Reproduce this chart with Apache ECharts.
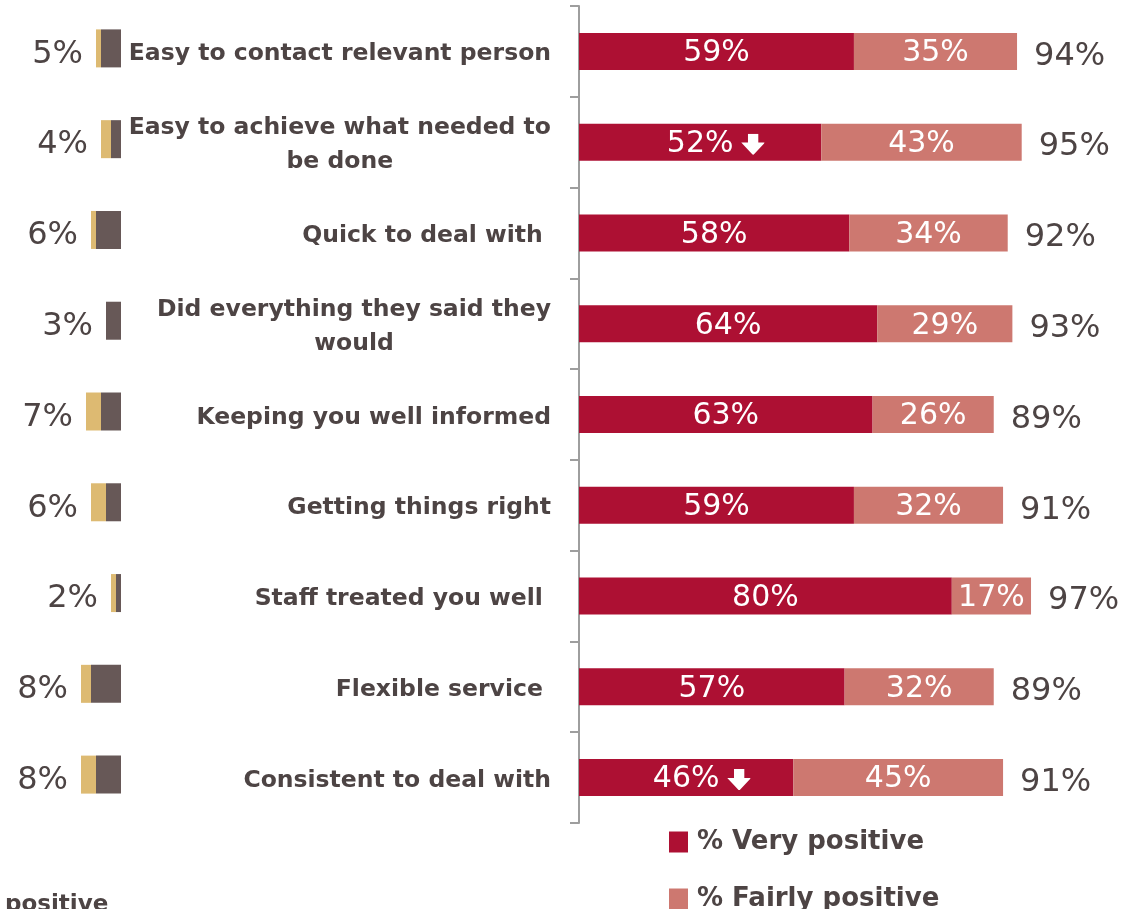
<!DOCTYPE html>
<html>
<head>
<meta charset="utf-8">
<script src="https://cdn.jsdelivr.net/npm/echarts@6/dist/echarts.min.js"></script>
<style>
  html, body { margin: 0; padding: 0; background: #ffffff; }
  #chart { width: 1121px; height: 909px; }
</style>
</head>
<body>
<div id="chart"></div>
<script>
// Service attributes, top to bottom
const categories = [
  'Easy to contact relevant person',
  'Easy to achieve what needed to\nbe done',
  'Quick to deal with ',
  'Did everything they said they\nwould',
  'Keeping you well informed',
  'Getting things right',
  'Staff treated you well ',
  'Flexible service ',
  'Consistent to deal with'
];

// Positive ratings (%)
const veryPositive   = [59, 52, 58, 64, 63, 59, 80, 57, 46];
const fairlyPositive = [35, 43, 34, 29, 26, 32, 17, 32, 45];
const totalPositive  = [94, 95, 92, 93, 89, 91, 97, 89, 91];
// 1 = significant decrease flagged with a down arrow
const significantDrop = [0, 1, 0, 0, 0, 0, 0, 0, 1];

// Negative ratings (%), drawn to the left
const veryNegative   = [4, 2, 5, 3, 4, 3, 1, 6, 5];
const fairlyNegative = [1, 2, 1, 0, 3, 3, 1, 2, 3];
const totalNegative  = [5, 4, 6, 3, 7, 6, 2, 8, 8];

const C_VERY = '#AD1033';
const C_FAIRLY = '#CD7870';
const C_NEG_DARK = '#675857';
const C_NEG_TAN = '#DDBA72';
const TEXT = '#4D4444';
const FONT = '"DejaVu Sans", "Liberation Sans", sans-serif';

const arrowSvg = "<svg xmlns='http://www.w3.org/2000/svg' width='30' height='20' viewBox='0 0 30 20'>" +
  "<path d='M14 0H24V8.5H30.5L19 20.5L7.5 8.5H14Z' fill='white'/></svg>";
const arrowUrl = 'data:image/svg+xml;charset=utf-8,' + encodeURIComponent(arrowSvg);

const chart = echarts.init(document.getElementById('chart'), null, { renderer: 'canvas' });

const option = {
  animation: false,
  backgroundColor: '#ffffff',
  textStyle: { fontFamily: FONT },
  legend: {
    data: ['% Very positive', '% Fairly positive'],
    orient: 'vertical',
    left: 669,
    top: 829,
    height: 200,
    padding: 0,
    itemWidth: 19,
    itemHeight: 21,
    itemGap: 31,
    icon: 'rect',
    textStyle: { fontFamily: FONT, fontSize: 26, lineHeight: 21, fontWeight: 'bold', color: TEXT, padding: [0, 0, 0, 4] }
  },
  grid: [
    { left: 579, top: 6, width: 466, height: 817 },
    { left: 21, top: 3, width: 100, height: 817 }
  ],
  xAxis: [
    { gridIndex: 0, type: 'value', min: 0, max: 100, show: false },
    { gridIndex: 1, type: 'value', min: -20, max: 0, show: false }
  ],
  yAxis: [
    {
      gridIndex: 0,
      type: 'category',
      data: categories,
      inverse: true,
      axisLine: { show: true, lineStyle: { color: '#9E9E9E', width: 2 } },
      axisTick: { show: true, length: 9, lineStyle: { color: '#9E9E9E', width: 2 } },
      axisLabel: {
        margin: 28,
        align: 'right',
        padding: [6, 0, 0, 0],
        formatter: v => v.split('\n').map(l => '{c|' + l + '}').join('\n'),
        rich: {
          c: { align: 'center', fontFamily: FONT, fontSize: 23.5, fontWeight: 'bold', color: TEXT, lineHeight: 34 }
        }
      }
    },
    {
      gridIndex: 1,
      type: 'category',
      data: categories,
      inverse: true,
      show: false
    }
  ],
  series: [
    {
      name: '% Very positive',
      type: 'bar',
      stack: 'pos',
      xAxisIndex: 0, yAxisIndex: 0,
      barWidth: 37,
      itemStyle: { color: C_VERY },
      data: veryPositive,
      label: {
        show: true,
        position: 'inside',
        offset: [0, 2],
        formatter: p => significantDrop[p.dataIndex]
          ? '{sp|}{v|' + p.value + '%}{ar|}'
          : '{v|' + p.value + '%}',
        rich: {
          v: { fontFamily: FONT, fontSize: 30, color: '#ffffff' },
          sp: { width: 31, height: 21 },
          ar: { width: 31, height: 21, backgroundColor: { image: arrowUrl } }
        }
      }
    },
    {
      name: '% Fairly positive',
      type: 'bar',
      stack: 'pos',
      xAxisIndex: 0, yAxisIndex: 0,
      barWidth: 37,
      itemStyle: { color: C_FAIRLY },
      data: fairlyPositive,
      label: {
        show: true,
        position: 'inside',
        offset: [0, 2],
        formatter: p => p.value + '%',
        fontFamily: FONT, fontSize: 30, color: '#ffffff'
      }
    },
    {
      type: 'scatter',
      xAxisIndex: 0, yAxisIndex: 0,
      symbolSize: 0,
      silent: true,
      itemStyle: { opacity: 1 },
      data: totalPositive.map((t, i) => [t, i]),
      label: {
        show: true,
        position: 'right',
        distance: 17,
        offset: [0, 5],
        formatter: p => totalPositive[p.dataIndex] + '%',
        fontFamily: FONT, fontSize: 32, color: TEXT
      }
    },
    {
      name: '% Very negative',
      type: 'bar',
      stack: 'neg',
      xAxisIndex: 1, yAxisIndex: 1,
      barWidth: 38,
      itemStyle: { color: C_NEG_DARK },
      data: veryNegative.map(v => -v)
    },
    {
      name: '% Fairly negative',
      type: 'bar',
      stack: 'neg',
      xAxisIndex: 1, yAxisIndex: 1,
      barWidth: 38,
      itemStyle: { color: C_NEG_TAN },
      data: fairlyNegative.map(v => -v)
    },
    {
      type: 'scatter',
      xAxisIndex: 1, yAxisIndex: 1,
      symbolSize: 0,
      silent: true,
      itemStyle: { opacity: 1 },
      data: totalNegative.map((t, i) => [-t, i]),
      label: {
        show: true,
        position: 'left',
        distance: 13,
        offset: [0, 6],
        formatter: p => totalNegative[p.dataIndex] + '%',
        fontFamily: FONT, fontSize: 32, color: TEXT
      }
    }
  ],
  graphic: [
    {
      type: 'text',
      left: 5,
      top: 894,
      style: { text: 'positive', fontFamily: FONT, fontSize: 23, fontWeight: 'bold', fill: TEXT }
    }
  ]
};

chart.setOption(option);
</script>
</body>
</html>
